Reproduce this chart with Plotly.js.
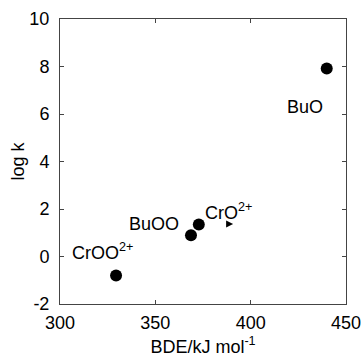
<!DOCTYPE html>
<html>
<head>
<meta charset="utf-8">
<script src="https://cdn.plot.ly/plotly-3.0.1.min.js"></script>
<style>html,body{margin:0;padding:0;background:#fff;}#chart{width:364px;height:359px;}</style>
</head>
<body>
<div id="chart"></div>
<script>
// Data
const bde = [329.4, 368.7, 372.8, 439.9];
const logk = [-0.8, 0.89, 1.35, 7.92];
const species = ["CrOO<sup>2+</sup>", "BuOO", "CrO<sup>2+</sup>", "BuO"];
const labelX = [305.2, 349.3, 375.0, 428.5];
const labelY = [0.19, 1.35, 1.9, 6.28];
const labelAnchor = ["left", "center", "left", "center"];
const arrowX = [390.8];
const arrowY = [1.37];
const xTicks = [300, 350, 400, 450];
const yTicks = [-2, 0, 2, 4, 6, 8, 10];

const font = {family: "Liberation Sans, Arial, sans-serif", size: 18, color: "#000"};

const traces = [
  {x: bde, y: logk, type: "scatter", mode: "markers",
   marker: {color: "#000", size: 12}, hoverinfo: "none"},
  {x: arrowX, y: arrowY, type: "scatter", mode: "markers",
   marker: {color: "#000", size: 7, symbol: "arrow-right"}, hoverinfo: "none"}
];

const annotations = species.map((s, i) => ({
  x: labelX[i], y: labelY[i], xref: "x", yref: "y", text: s,
  showarrow: false, xanchor: labelAnchor[i], yanchor: "middle", font: font
}));

const axisCommon = {
  showgrid: false, zeroline: false, showline: true, mirror: "ticks",
  linecolor: "#444", linewidth: 1, ticks: "inside", ticklen: 4,
  tickcolor: "#444", tickfont: font
};

const layout = {
  width: 364, height: 359,
  margin: {l: 60, r: 18, t: 19, b: 55},
  paper_bgcolor: "#fff", plot_bgcolor: "#fff",
  showlegend: false,
  font: font,
  xaxis: Object.assign({}, axisCommon, {range: [300, 450], tickvals: xTicks,
    ticktext: xTicks.map(String), ticklabelstandoff: 2,
    title: {text: "BDE/kJ mol<sup>-1</sup>", font: font, standoff: 8}}),
  yaxis: Object.assign({}, axisCommon, {range: [-2, 10], tickvals: yTicks,
    ticktext: yTicks.map(String), ticklabelstandoff: 6,
    title: {text: "log k", font: font, standoff: 0}}),
  annotations: annotations
};

Plotly.newPlot("chart", traces, layout, {displayModeBar: false, staticPlot: true});
</script>
</body>
</html>
